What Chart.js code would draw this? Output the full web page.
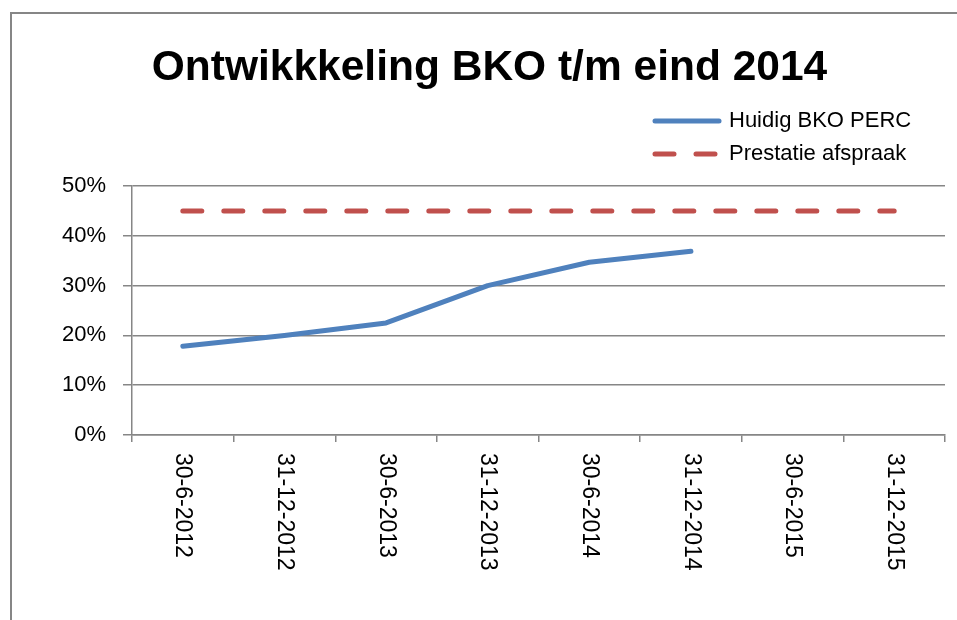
<!DOCTYPE html>
<html>
<head>
<meta charset="utf-8">
<script src="https://cdn.jsdelivr.net/npm/chart.js@4.4.1/dist/chart.umd.min.js"></script>
<style>
  html, body { margin: 0; padding: 0; background: #fff; overflow: hidden; }
  .frame {
    position: absolute; left: 10px; top: 12px; width: 1200px; height: 800px;
    border-left: 2px solid #868686; border-top: 2px solid #868686;
  }
  #myChart { position: absolute; left: 0; top: 0; }
</style>
</head>
<body>
<div class="frame"></div>
<canvas id="myChart" width="979" height="620"></canvas>
<script>
// chart data
const categories = ['30-6-2012', '31-12-2012', '30-6-2013', '31-12-2013', '30-6-2014', '31-12-2014', '30-6-2015', '31-12-2015'];
const huidigBko = [17.8, 20.0, 22.5, 30.0, 34.7, 36.9, null, null];
const prestatieAfspraak = [45, 45, 45, 45, 45, 45, 45, 45];
const yTicks = [0, 10, 20, 30, 40, 50];

const gridColor = '#868686';

// x labels rotated clockwise (reads top to bottom), Chart.js only rotates the other way
const xLabelPlugin = {
    id: 'xLabels',
    afterDraw(chart) {
        const { ctx, scales: { x } } = chart;
        ctx.save();
        ctx.font = '23px "Liberation Sans"';
        ctx.fillStyle = '#000';
        ctx.textAlign = 'left';
        ctx.textBaseline = 'middle';
        categories.forEach((label, i) => {
            ctx.save();
            ctx.translate(x.getPixelForValue(i), x.bottom + 11);
            ctx.rotate(Math.PI / 2);
            ctx.fillText(label, 0, 0);
            ctx.restore();
        });
        ctx.restore();
    }
};

// stacked legend above the plot, right side
const legendPlugin = {
    id: 'stackedLegend',
    afterDraw(chart) {
        const { ctx, chartArea } = chart;
        ctx.save();
        ctx.font = '22px "Liberation Sans"';
        ctx.textBaseline = 'middle';
        chart.data.datasets.forEach((ds, i) => {
            const y = chartArea.top - 65 + i * 33;
            const x0 = chartArea.right - 290;
            ctx.beginPath();
            ctx.setLineDash(ds.borderDash || []);
            ctx.lineCap = 'round';
            ctx.lineWidth = ds.borderWidth;
            ctx.strokeStyle = ds.borderColor;
            ctx.moveTo(x0, y);
            ctx.lineTo(x0 + 64, y);
            ctx.stroke();
            ctx.setLineDash([]);
            ctx.fillStyle = '#000';
            ctx.fillText(ds.label, x0 + 74, y);
        });
        ctx.restore();
    }
};

Chart.defaults.font.family = '"Liberation Sans", Arial, sans-serif';
Chart.defaults.color = '#000';

const ctx = document.getElementById('myChart').getContext('2d');
new Chart(ctx, {
    type: 'line',
    data: {
        labels: categories,
        datasets: [
            {
                label: 'Huidig BKO PERC',
                data: huidigBko,
                borderColor: '#4F81BD',
                backgroundColor: '#4F81BD',
                borderWidth: 5,
                borderCapStyle: 'round',
                borderJoinStyle: 'round',
                pointRadius: 0,
                tension: 0,
                spanGaps: false
            },
            {
                label: 'Prestatie afspraak',
                data: prestatieAfspraak,
                borderColor: '#C0504D',
                backgroundColor: '#C0504D',
                borderWidth: 5,
                borderDash: [19, 22],
                borderCapStyle: 'round',
                pointRadius: 0,
                tension: 0
            }
        ]
    },
    options: {
        responsive: false,
        animation: false,
        layout: {
            // title box spans 34..945, so it centres where the original does
            padding: { left: 34, right: 34, top: 0, bottom: 178 }
        },
        plugins: {
            legend: { display: false },
            tooltip: { enabled: false },
            title: {
                display: true,
                text: 'Ontwikkkeling BKO t/m eind 2014',
                font: { size: 42.5, weight: 'bold' },
                color: '#000',
                padding: { top: 43, bottom: 92 }
            }
        },
        scales: {
            x: {
                offset: true,
                grid: {
                    offset: true,
                    drawOnChartArea: false,
                    drawTicks: true,
                    tickLength: 7,
                    color: gridColor,
                    lineWidth: 1.5
                },
                border: { color: gridColor, width: 1.5 },
                ticks: { display: false },
                afterFit: (scale) => { scale.height = 7; }
            },
            y: {
                min: yTicks[0],
                max: yTicks[yTicks.length - 1],
                afterBuildTicks: (scale) => {
                    scale.ticks = yTicks.map(v => ({ value: v }));
                },
                grid: {
                    color: gridColor,
                    lineWidth: 1.5,
                    drawTicks: true,
                    tickLength: 9
                },
                border: { color: gridColor, width: 1.5 },
                ticks: {
                    padding: 17,
                    font: { size: 22 },
                    callback: (v) => v + '%'
                },
                afterFit: (scale) => { scale.width = 98; }
            }
        }
    },
    plugins: [xLabelPlugin, legendPlugin]
});
</script>
</body>
</html>
